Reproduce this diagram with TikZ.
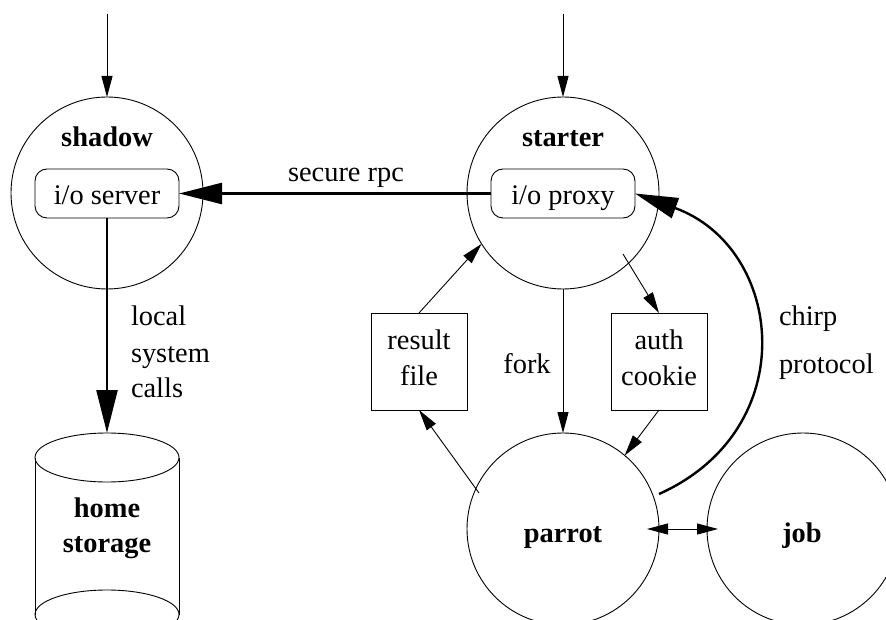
\documentclass[tikz,border=0pt]{standalone}
\usepackage{fontspec}
\setmainfont{Liberation Serif}
\usetikzlibrary{arrows.meta,calc}
\begin{document}
\begin{tikzpicture}[x=1pt,y=-1pt,
  every node/.style={inner sep=0pt,outer sep=0pt},
  lbl/.style={anchor=base,font=\fontsize{28.4}{34}\selectfont},
  lblw/.style={anchor=base west,font=\fontsize{28.4}{34}\selectfont},
  blbl/.style={anchor=base,font=\fontsize{28.4}{34}\selectfont\bfseries},
  proc/.style={circle,draw,line width=0.9pt,minimum size=192pt},
  rbox/.style={draw,rounded corners=12pt,minimum width=144pt,minimum height=49pt,line width=0.9pt},
  fbox/.style={draw,minimum width=96pt,minimum height=97pt,line width=0.9pt},
  thinarrow/.style={line width=0.9pt,-{Triangle[length=21pt,width=11pt]}},
  thinboth/.style={line width=0.9pt,{Triangle[length=21pt,width=11pt]}-{Triangle[length=21pt,width=11pt]}},
  thickarrow/.style={line width=2.4pt,-{Triangle[length=43pt,width=21pt]}},
  thinline/.style={line width=0.9pt},
]
\useasboundingbox (0,0) rectangle (886,620);
\clip (0,0) rectangle (886,620);

% processes
\node[proc] (shadow) at (107,193) {};
\node[proc] (starter) at (563,193) {};
\node[proc] (parrot) at (563,529) {};
\node[proc] (job) at (803,529) {};

% inner boxes
\node[rbox] (server) at (107,193.5) {};
\node[rbox] (proxy) at (563,193.5) {};
\node[fbox] (result) at (419,361.5) {};
\node[fbox] (auth) at (659,361.5) {};

% home storage cylinder
\draw[thinline] (107,457.5) ellipse [x radius=72, y radius=24.5];
\draw[thinline] (35,457.5) -- (35,614.5) (179,457.5) -- (179,614.5);
\draw[thinline] (107,614.5) ellipse [x radius=72, y radius=24.5];
\coordinate (hometop) at (107,433);

% labels
\node[blbl] (shadowlbl) at (107,147) {shadow};
\node[blbl] (starterlbl) at (563,147) {starter};
\node[lbl] (serverlbl) at (107,205) {i/o server};
\node[lbl] (proxylbl) at (563,205) {i/o proxy};
\node[lbl] (rpclbl) at (346,182) {secure rpc};
\node[lblw] (local1) at (131,326) {local};
\node[lblw] (local2) at (131,362) {system};
\node[lblw] (local3) at (131,397) {calls};
\node[lbl] (result1) at (419,349) {result};
\node[lbl] (result2) at (419,385) {file};
\node[lbl] (forklbl) at (527,373) {fork};
\node[lbl] (auth1) at (659,349) {auth};
\node[lbl] (auth2) at (659,385) {cookie};
\node[lblw] (chirp1) at (779,325) {chirp};
\node[lblw] (chirp2) at (779,373) {protocol};
\node[blbl] (parrotlbl) at (563,542) {parrot};
\node[blbl] (joblbl) at (802,542) {job};
\node[blbl] (home1) at (107,517) {home};
\node[blbl] (home2) at (107,552) {storage};

% free ends
\coordinate (intop1) at (107,14);
\coordinate (intop2) at (563,14);
\coordinate (sa) at ($(starter.center)+(60,61)$);
\coordinate (pr) at ($(parrot.center)+(-84,-36)$);
\coordinate (cs) at ($(parrot.center)+(96,-35)$);

% connectors
\draw[thinarrow] (intop1) -- (shadow.north);
\draw[thinarrow] (intop2) -- (starter.north);
\draw[thickarrow] (proxy.west) -- (server.east);
\draw[thickarrow] (server.south) -- (hometop);
\draw[thinarrow] (starter.south) -- (parrot.north);
\draw[thinarrow] (sa) -- (auth.north);
\draw[thinarrow] (auth.south) -- (parrot.50);
\draw[thinarrow] (pr) -- (result.south);
\draw[thinarrow] (result.north) -- (starter.212);
\draw[thinboth,shorten <=-12pt,shorten >=-11pt] (parrot.east) -- (job.west);
\draw[thickarrow] (cs) .. controls ($(cs)+(145,-65)$) and ($(proxy.east)+(149,54)$) .. (proxy.east);
\end{tikzpicture}
\end{document}
